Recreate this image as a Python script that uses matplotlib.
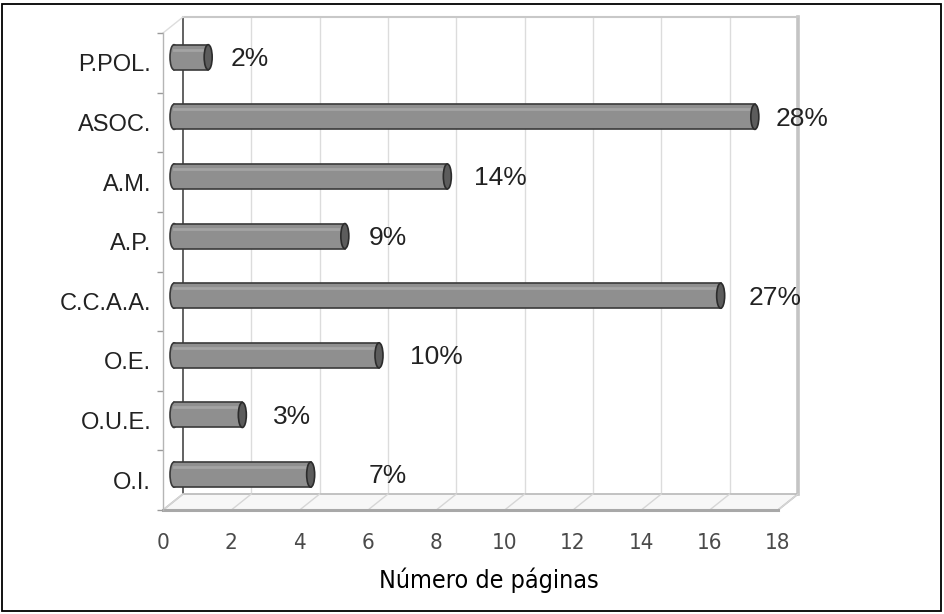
import matplotlib
matplotlib.use('Agg')
import matplotlib.pyplot as plt
from matplotlib.patches import Rectangle, Polygon, Ellipse

# data (bottom to top)
categories = ['O.I.', 'O.U.E.', 'O.E.', 'C.C.A.A.', 'A.P.', 'A.M.', 'ASOC.', 'P.POL.']
paginas = [4, 2, 6, 16, 5, 8, 17, 1]
pct_labels = ['7%', '3%', '10%', '27%', '9%', '14%', '28%', '2%']
xticks = list(range(0, 19, 2))

# layout only: gap between bar end and its label, in pixels
label_pad = [54, 27, 27, 24, 20, 23, 17, 18]

W, H = 944, 614
fig = plt.figure(figsize=(W / 100, H / 100), dpi=100)
ax = fig.add_axes([163 / W, 104 / H, 615 / W, 477 / H])
ax.set_xlim(0, 18)
ax.set_ylim(-0.5, 7.5)
ax.patch.set_visible(False)

xpx = 615 / 18.0
ypx = 477 / 8.0
DX = 20 / xpx        # depth of the 3d box, data units
DY = 16 / ypx
BD = 0.35            # bars sit at this fraction of the depth

regular = ['Liberation Sans', 'DejaVu Sans']

# back wall
ax.add_patch(Rectangle((DX, -0.5 + DY), 18, 8, fc='white', ec='none', zorder=0, clip_on=False))
for v in xticks:
    if v == 0:
        c, lw = '#555555', 1.3
    elif v == 18:
        c, lw = '#c4c4c4', 2.6
    else:
        c, lw = '#dcdcdc', 1.0
    ax.plot([v + DX, v + DX], [-0.5 + DY, 7.5 + DY], color=c, lw=lw, zorder=1, clip_on=False)
ax.plot([DX, 18 + DX], [7.5 + DY, 7.5 + DY], color='#c8c8c8', lw=1.5, zorder=1, clip_on=False)
ax.plot([0, DX], [7.5, 7.5 + DY], color='#dddddd', lw=1.0, zorder=1, clip_on=False)

# floor
ax.add_patch(Polygon([(0, -0.5), (18, -0.5), (18 + DX, -0.5 + DY), (DX, -0.5 + DY)],
                     closed=True, fc='#f7f7f7', ec='#b8b8b8', lw=1.2, zorder=1, clip_on=False))
for v in xticks:
    ax.plot([v, v + DX], [-0.5, -0.5 + DY], color='#d6d6d6', lw=1.0, zorder=1, clip_on=False)
ax.plot([0, 18], [-0.5, -0.5], color='#a8a8a8', lw=2.2, zorder=1, clip_on=False)

# cylinder bars
bh = 0.42
cap_w = 8 / xpx
ys = [i + BD * DY for i in range(len(categories))]
x0 = BD * DX + 0.5 * cap_w
ax.barh(ys, paginas, left=x0, height=bh, color='#8f8f8f', edgecolor='none', zorder=3)
for y, v, lab, pad in zip(ys, paginas, pct_labels, label_pad):
    ax.add_patch(Ellipse((x0, y), cap_w, bh, fc='#8f8f8f', ec='#3a3a3a', lw=1.2, zorder=2.9))
    ax.plot([x0, x0 + v], [y + bh / 2, y + bh / 2], color='#3a3a3a', lw=1.2, zorder=3.5)
    ax.plot([x0, x0 + v], [y - bh / 2, y - bh / 2], color='#3a3a3a', lw=1.2, zorder=3.5)
    ax.plot([x0, x0 + v], [y + bh * 0.3, y + bh * 0.3], color='#a4a4a4', lw=2.0, zorder=3.4)
    ax.add_patch(Ellipse((x0 + v, y), cap_w, bh, fc='#5c5c5c', ec='#2c2c2c', lw=1.2, zorder=4))
    ax.text(x0 + v + cap_w / 2 + pad / xpx, y - 0.03, lab, fontsize=19, family=regular,
            color='#222222', va='center', ha='left', zorder=5, clip_on=False)

# axes, ticks
for s in ['top', 'right', 'bottom']:
    ax.spines[s].set_visible(False)
ax.spines['left'].set_color('#b5b5b5')
ax.spines['left'].set_linewidth(1.0)

ax.set_yticks(range(len(categories)))
ax.set_yticklabels(categories, fontsize=17, family=regular, color='#222222')
ax.set_yticks([i - 0.5 for i in range(len(categories) + 1)], minor=True)
ax.tick_params(axis='y', which='major', length=0, pad=8.5)
ax.tick_params(axis='y', which='minor', length=4.5, width=1.0, color='#9a9a9a')

ax.set_xticks(xticks)
ax.set_xticklabels([str(t) for t in xticks], fontsize=16, family='DejaVu Sans',
                   fontstretch='condensed', color='#4a4a4a')
ax.tick_params(axis='x', length=0, pad=16.5)

ax.set_xlabel('Número de páginas', fontsize=18, family='DejaVu Sans',
              fontstretch='condensed', color='black')
ax.xaxis.set_label_coords(0.53, -0.12)

# outer frame
fig.add_artist(Rectangle((2 / W, 3 / H), 939 / W, 607 / H, transform=fig.transFigure,
                         fill=False, ec='black', lw=1.3))

fig.savefig('out.png', dpi=100)
